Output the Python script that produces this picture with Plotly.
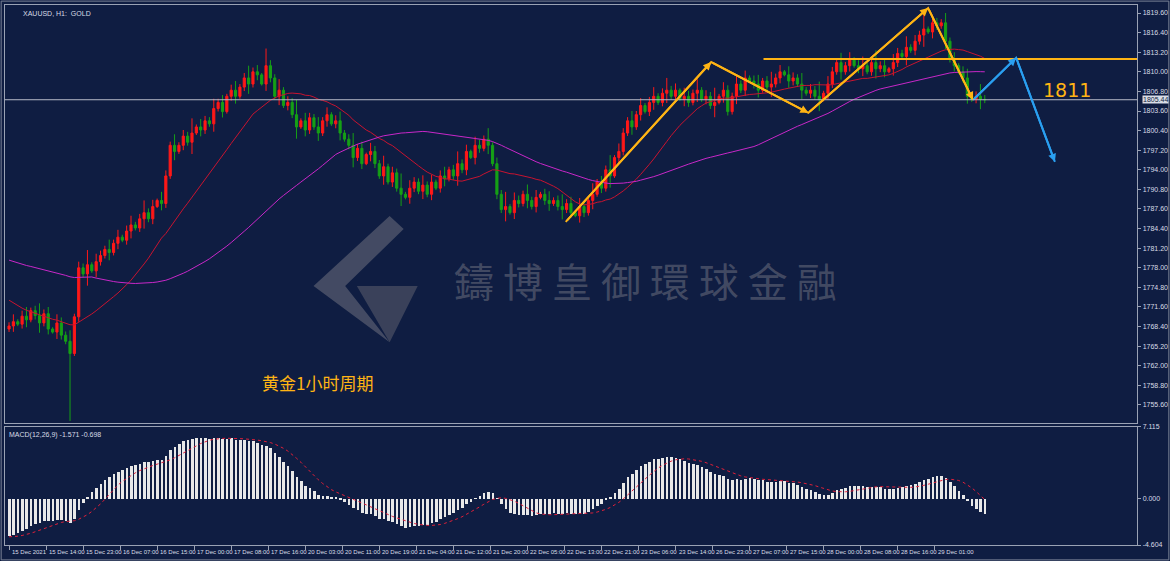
import plotly.graph_objects as go
import pandas as pd

history = [1790.0,1789.5,1790.2,1789.0,1788.5,1789.2,1788.0,1787.5,1787.2,1786.0,
           1785.5,1785.0,1784.0,1783.2,1783.8,1782.5,1782.0,1782.8,1781.5,1780.0,
           1779.6,1778.5,1778.0,1777.6,1776.5,1776.0,1775.4,1774.2,1774.0,1773.5,
           1772.4,1772.0,1771.5,1770.5,1770.0,1770.4,1769.5,1769.2,1768.6,1768.0]
closes = [1768.5,1769.2,1768.8,1770.1,1769.5,1771.0,1770.2,1769.0,1770.5,1768.0,1767.5,1769.0,1767.0,1766.0,
          1764.0,1770.0,1778.0,1777.0,1778.5,1777.5,1779.0,
          1780,1781,1780.5,1782,1783,1782.5,1784,1785,1784.5,1786,1787,1786,1788,1789,1788.5,
          1793,1798,1797,
          1798,1799.5,1798.5,1800,1801,1800.5,1802,1801.5,
          1804,1805,1803.5,1806,1807,1806,1807.5,
          1809,1808,1810,1809.5,1808,1811,1809,
          1806,1807,1804.5,1805,1803,
          1801,1802,1800.5,1802.5,1801,1800,1802,1803,1801.5,1802,1800,
          1799,1798,1796,1797.5,1795,1796.5,1797,1795,
          1793,1794.5,1792,1793.5,1791,1790,
          1789.5,1791,1792,1790.5,1791.5,1790,1792,1791,1793,1792.5,1794,1793,
          1795,1794,1797,1796,1798,1797.5,1799,1798,
          1795,1790,1787.5,
          1788,1787,1789,1788.5,1790,1789,1788,1789.5,1790,1789,1788.5,1789,1788,1787.5,1788.5,
          1787,1786.5,1788,1787,1789,
          1790,1792,1791,1794,1793,1796,1797,
          1800,1802,1801,1803,1804.5,1803.5,
          1805,1806,1805,1806.5,1807,1806,1807,1805.5,
          1806,1805,1806.5,1807,1805.5,1806,1804.5,1805,1806,1807,
          1803.5,1806,
          1808,1807,1809,1808.5,1808,1807,1808.5,1807.5,1808,
          1809,1810,1809.5,1808.5,1809,
          1808,1807,1806.5,1807,1806,1805.5,1806.5,
          1808,1810,1811.5,1810,1811,1812,1811,1810.5,
          1811,1810,1811.5,1810.5,1811,1810,1810.5,
          1811.5,1813,1812.5,1814,1813.5,
          1815,1816,1817,1816.5,1818,1817.5,
          1818,1815,1812,1811,1810,
          1809,1806,1805.5,
          1806,1805.5,1805.44]
wick_sizes = [0.6,1.2,0.4,0.9,1.5,0.5,0.8,2.0,0.7,1.1,0.3,1.4,0.9,0.6,1.8,0.5,1.0,0.7,2.4,0.4,1.3,0.8,0.6,1.6]
first_open = 1768.0
tick_labels = ["15 Dec 2021","15 Dec 14:00","15 Dec 23:00","16 Dec 07:00","16 Dec 15:00","17 Dec 00:00",
               "17 Dec 08:00","17 Dec 16:00","20 Dec 03:00","20 Dec 11:00","20 Dec 19:00","21 Dec 04:00",
               "21 Dec 12:00","21 Dec 20:00","22 Dec 05:00","22 Dec 13:00","22 Dec 21:00","23 Dec 06:00",
               "23 Dec 14:00","26 Dec 23:00","27 Dec 07:00","27 Dec 15:00","28 Dec 00:00","28 Dec 08:00",
               "28 Dec 16:00","29 Dec 01:00"]
price_ticks = [1819.60,1816.40,1813.20,1810.00,1806.80,1803.60,1800.40,1797.20,1794.00,1790.80,1787.60,
               1784.40,1781.20,1778.00,1774.80,1771.60,1768.40,1765.20,1762.00,1758.80,1755.60]
yellow_x = [127.8,161.2,183.5,211.0,221.3]
yellow_y = [1785.5,1811.6,1803.3,1820.4,1805.4]
blue_x = [221.3,231.2,240.1]
blue_y = [1805.4,1812.3,1795.3]
resist_x = [173.2,262]
resist_y = [1812.1,1812.1]
last_price = 1805.44

n = len(closes)
x = list(range(n))
opens = [first_open] + closes[:-1]
highs, lows = [], []
for i in range(n):
    w = wick_sizes[i % len(wick_sizes)]
    highs.append(max(opens[i], closes[i]) + w)
    lows.append(min(opens[i], closes[i]) - w * 0.8)
lows[14] = 1753.0
highs[59] = 1813.8

h = len(history)
s = pd.Series(history + closes)
ma_fast = s.rolling(20, min_periods=1).mean().iloc[h:]
ma_slow = s.rolling(60, min_periods=1).mean().iloc[h:]
macd_full = s.ewm(span=12, adjust=False).mean() - s.ewm(span=26, adjust=False).mean()
signal = macd_full.rolling(9, min_periods=1).mean().iloc[h:]
macd = macd_full.iloc[h:]

BG = "#0f1d42"
TXT = "#d8dce6"
AX = "#9aa2b4"
FONT = "Liberation Sans"
fig = go.Figure()
fig.add_trace(go.Candlestick(x=x, open=opens, high=highs, low=lows, close=closes,
    increasing=dict(line=dict(color="#ff1818", width=1), fillcolor="#ff1818"),
    decreasing=dict(line=dict(color="#16a016", width=1), fillcolor="#16a016"),
    whiskerwidth=0, xaxis="x", yaxis="y", showlegend=False, hoverinfo="skip"))
fig.add_trace(go.Scatter(x=x, y=list(ma_fast), mode="lines", line=dict(color="#c81430", width=1), xaxis="x", yaxis="y", showlegend=False))
fig.add_trace(go.Scatter(x=x, y=list(ma_slow), mode="lines", line=dict(color="#c828c8", width=1), xaxis="x", yaxis="y", showlegend=False))
fig.add_trace(go.Scatter(x=resist_x, y=resist_y, mode="lines", line=dict(color="#ffb414", width=2), xaxis="x", yaxis="y", showlegend=False))
fig.add_trace(go.Scatter(x=yellow_x, y=yellow_y, mode="lines", line=dict(color="#ffb414", width=2), xaxis="x", yaxis="y", showlegend=False))
fig.add_trace(go.Scatter(x=blue_x, y=blue_y, mode="lines", line=dict(color="#2a9ff0", width=2), xaxis="x", yaxis="y", showlegend=False))
fig.add_trace(go.Bar(x=x, y=list(macd), marker=dict(color="#e8e8e8", line=dict(width=0)), width=0.6, xaxis="x2", yaxis="y2", showlegend=False))
fig.add_trace(go.Scatter(x=x, y=list(signal), mode="lines", line=dict(color="#e0203a", width=1, dash="dot"), xaxis="x2", yaxis="y2", showlegend=False))

for (xs, ys, col) in [(yellow_x, yellow_y, "#ffb414"), (blue_x, blue_y, "#2a9ff0")]:
    for i in range(1, len(xs)):
        fig.add_annotation(x=xs[i], y=ys[i], ax=xs[i-1], ay=ys[i-1], xref="x", yref="y", axref="x", ayref="y",
                           showarrow=True, arrowhead=2, arrowsize=0.8, arrowwidth=2, arrowcolor=col, text="")

fig.add_shape(type="line", xref="paper", yref="y", x0=0.004, x1=0.972, y0=last_price, y1=last_price,
              line=dict(color="#b8bcc8", width=1))

xr = [-1, 259]
tick_font = dict(size=7, color=TXT, family=FONT)
fig.update_layout(
    width=1170, height=561, margin=dict(l=0, r=0, t=0, b=0),
    paper_bgcolor=BG, plot_bgcolor=BG, bargap=0,
    xaxis=dict(domain=[0.004, 0.972], range=xr, showticklabels=False, showgrid=False, zeroline=False, automargin=False,
               rangeslider=dict(visible=False), showline=True, linecolor=AX, mirror=True),
    yaxis=dict(domain=[0.246, 0.991], range=[1752.66, 1820.9], side="right", tickvals=price_ticks,
               ticktext=[f"{v:.2f}" for v in price_ticks], tickfont=tick_font, automargin=False,
               showgrid=False, zeroline=False, ticks="outside", ticklen=3, tickcolor=AX,
               showline=True, linecolor=AX, mirror=True),
    xaxis2=dict(domain=[0.004, 0.972], range=xr, anchor="y2", tickvals=[i * 8.5 for i in range(len(tick_labels))],
                showticklabels=False, automargin=False,
                ticks="outside", ticklen=4, tickcolor=AX, showgrid=False, zeroline=False,
                showline=True, linecolor=AX, mirror=True),
    yaxis2=dict(domain=[0.0285, 0.239], range=[-4.604, 7.115], side="right", anchor="x2", automargin=False,
                tickvals=[7.115, 0.0, -4.604], ticktext=["7.115", "0.000", "-4.604"],
                tickfont=tick_font, showgrid=False, zeroline=False,
                ticks="outside", ticklen=3, tickcolor=AX, showline=True, linecolor=AX, mirror=True),
)
for i, lab in enumerate(tick_labels):
    fig.add_annotation(x=i * 8.5, xref="x2", y=0.0285, yref="paper", yshift=-2, text=lab, showarrow=False,
                       xanchor="left", yanchor="top", xshift=1, font=dict(size=6, color=TXT, family=FONT))

fig.add_annotation(x=1.0, xref="paper", y=last_price, yref="y", text=f"{last_price:.2f}", showarrow=False,
                   xanchor="right", xshift=-1, font=dict(size=7, color="#101d40", family=FONT), bgcolor="#d8dce6",
                   borderpad=0)
fig.add_annotation(x=0.018, y=0.985, xref="paper", yref="paper", text="XAUUSD, H1:  GOLD", showarrow=False,
                   xanchor="left", yanchor="top", font=dict(size=7, color=TXT, family=FONT))
fig.add_annotation(x=0.006, y=0.236, xref="paper", yref="paper", text="MACD(12,26,9) -1.571 -0.698", showarrow=False,
                   xanchor="left", yanchor="top", font=dict(size=7, color=TXT, family=FONT))
fig.add_annotation(x=1093/1170, y=1-77/561, xref="paper", yref="paper", text="1811", showarrow=False,
                   font=dict(size=19, color="#ffb414", family="DejaVu Sans"))
fig.add_annotation(x=260/1170, y=1-397/561, xref="paper", yref="paper", text="黄金1小时周期", showarrow=False,
                   font=dict(size=17, color="#ffb414", family="Noto Sans CJK SC"))
fig.add_annotation(x=645/1170, y=1-280/561, xref="paper", yref="paper", text="鑄 博 皇 御 環 球 金 融", showarrow=False,
                   font=dict(size=40, color="rgba(130,130,140,0.45)", family="Noto Sans CJK TC"))
fig.add_shape(type="path", xref="paper", yref="paper",
              path="M 0.268,0.49 L 0.333,0.615 L 0.345,0.592 L 0.295,0.49 L 0.333,0.39 Z",
              fillcolor="rgba(130,130,140,0.45)", line=dict(width=0))
fig.add_shape(type="path", xref="paper", yref="paper",
              path="M 0.305,0.49 L 0.357,0.49 L 0.333,0.39 Z",
              fillcolor="rgba(110,110,120,0.45)", line=dict(width=0))
fig.add_shape(type="rect", xref="paper", yref="paper", x0=0.001, y0=0.002, x1=0.999, y1=0.998,
              line=dict(color="#7a8296", width=1), fillcolor="rgba(0,0,0,0)")

fig.write_html("out.html", config={"displayModeBar": False},
               post_script="document.body.style.margin='0';document.body.style.background='#0f1d42';")
